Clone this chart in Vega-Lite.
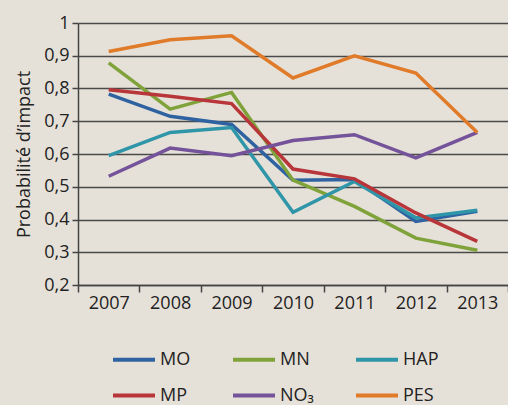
{
  "$schema": "https://vega.github.io/schema/vega-lite/v6.json",
  "width": 430,
  "height": 262,
  "autosize": {"type": "none"},
  "padding": {"left": 78, "top": 23, "right": 0, "bottom": 120},
  "background": "#e6e1d8",
  "config": {
    "view": {"stroke": null},
    "font": "Open Sans",
    "axis": {"labelFont": "Open Sans", "titleFont": "Open Sans", "labelColor": "#222", "titleColor": "#222"},
    "legend": {"labelFont": "Open Sans"}
  },
  "data": {
    "values": [
      {"year": "2007", "s": "MO", "v": 0.783},
      {"year": "2008", "s": "MO", "v": 0.715},
      {"year": "2009", "s": "MO", "v": 0.69},
      {"year": "2010", "s": "MO", "v": 0.52},
      {"year": "2011", "s": "MO", "v": 0.522},
      {"year": "2012", "s": "MO", "v": 0.394},
      {"year": "2013", "s": "MO", "v": 0.425},
      {"year": "2007", "s": "MN", "v": 0.878},
      {"year": "2008", "s": "MN", "v": 0.737},
      {"year": "2009", "s": "MN", "v": 0.788},
      {"year": "2010", "s": "MN", "v": 0.52},
      {"year": "2011", "s": "MN", "v": 0.44},
      {"year": "2012", "s": "MN", "v": 0.343},
      {"year": "2013", "s": "MN", "v": 0.306},
      {"year": "2007", "s": "HAP", "v": 0.595},
      {"year": "2008", "s": "HAP", "v": 0.666},
      {"year": "2009", "s": "HAP", "v": 0.681},
      {"year": "2010", "s": "HAP", "v": 0.422},
      {"year": "2011", "s": "HAP", "v": 0.516},
      {"year": "2012", "s": "HAP", "v": 0.405},
      {"year": "2013", "s": "HAP", "v": 0.428},
      {"year": "2007", "s": "MP", "v": 0.796},
      {"year": "2008", "s": "MP", "v": 0.776},
      {"year": "2009", "s": "MP", "v": 0.754},
      {"year": "2010", "s": "MP", "v": 0.554},
      {"year": "2011", "s": "MP", "v": 0.524},
      {"year": "2012", "s": "MP", "v": 0.42},
      {"year": "2013", "s": "MP", "v": 0.333},
      {"year": "2007", "s": "NO₃", "v": 0.532},
      {"year": "2008", "s": "NO₃", "v": 0.618},
      {"year": "2009", "s": "NO₃", "v": 0.595},
      {"year": "2010", "s": "NO₃", "v": 0.641},
      {"year": "2011", "s": "NO₃", "v": 0.659},
      {"year": "2012", "s": "NO₃", "v": 0.588},
      {"year": "2013", "s": "NO₃", "v": 0.666},
      {"year": "2007", "s": "PES", "v": 0.913},
      {"year": "2008", "s": "PES", "v": 0.949},
      {"year": "2009", "s": "PES", "v": 0.961},
      {"year": "2010", "s": "PES", "v": 0.832},
      {"year": "2011", "s": "PES", "v": 0.9},
      {"year": "2012", "s": "PES", "v": 0.847},
      {"year": "2013", "s": "PES", "v": 0.666}
    ]
  },
  "mark": {"type": "line", "strokeWidth": 3.5, "strokeJoin": "miter"},
  "encoding": {
    "x": {
      "field": "year", "type": "ordinal",
      "scale": {"paddingInner": 0, "paddingOuter": 0},
      "axis": {
        "title": null, "labelAngle": 0, "labelFontSize": 18, "labelPadding": 2,
        "tickBand": "extent", "tickSize": 7, "tickColor": "#444", "tickWidth": 1.5,
        "domainColor": "#444", "domainWidth": 1.5, "grid": false
      }
    },
    "y": {
      "field": "v", "type": "quantitative",
      "scale": {"domain": [0.2, 1], "nice": false, "zero": false},
      "axis": {
        "title": "Probabilité d’impact", "titleFontSize": 18, "titleFontWeight": "normal", "titlePadding": 10,
        "values": [0.2, 0.3, 0.4, 0.5, 0.6, 0.7, 0.8, 0.9, 1],
        "labelExpr": "datum.value == 1 ? '1' : replace(format(datum.value, '.1f'), '.', ',')",
        "labelFontSize": 18, "labelPadding": 3,
        "tickSize": 6, "tickColor": "#444", "tickWidth": 1.5,
        "domainColor": "#444", "domainWidth": 1.5,
        "grid": true, "gridColor": "#4a4a4a", "gridWidth": 1.6, "gridOpacity": 1
      }
    },
    "color": {
      "field": "s", "type": "nominal",
      "scale": {
        "domain": ["MO", "MN", "HAP", "MP", "NO₃", "PES"],
        "range": ["#2e62a0", "#7fa33a", "#2f95a8", "#b8363a", "#74539a", "#e07b2a"]
      },
      "legend": {
        "title": null, "orient": "none", "legendX": 33, "legendY": 324,
        "columns": 3, "direction": "horizontal",
        "symbolType": "M-1,0H3", "symbolSize": 441, "symbolStrokeWidth": 4,
        "labelFontSize": 18, "labelColor": "#222", "labelOffset": 24,
        "columnPadding": 34, "rowPadding": 14
      }
    }
  }
}
